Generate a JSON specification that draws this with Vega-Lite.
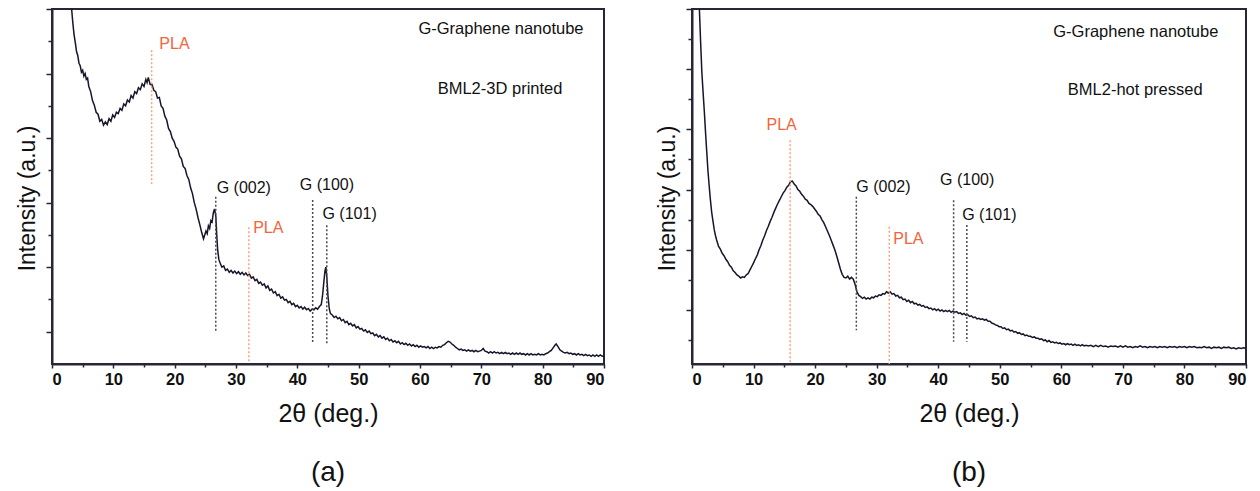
{
  "$schema": "https://vega.github.io/schema/vega-lite/v6.json",
  "padding": {"left": 15, "top": 7, "right": 0, "bottom": 0},
  "spacing": 49,
  "config": {
    "view": {"stroke": "#262638", "strokeWidth": 2},
    "font": "Liberation Sans",
    "axis": {"domainColor": "#262638", "domainWidth": 2, "tickColor": "#262638", "tickWidth": 1.5, "grid": false, "labelColor": "#111111", "titleColor": "#111111", "labelFont": "Liberation Sans", "titleFont": "Liberation Sans"}
  },
  "datasets": {
    "a_curve": [
      {"x":3.2,"y":5.5},{"x":3.4,"y":5.28},{"x":3.6,"y":5.1},{"x":3.8,"y":4.98},{"x":4.0,"y":4.84},{"x":4.2,"y":4.78},{"x":4.4,"y":4.66},{"x":4.6,"y":4.62},{"x":4.8,"y":4.52},{"x":5.0,"y":4.55},{"x":5.2,"y":4.46},{"x":5.4,"y":4.5},{"x":5.6,"y":4.41},{"x":5.8,"y":4.43},{"x":6.0,"y":4.3},{"x":6.3,"y":4.22},{"x":6.6,"y":4.08},{"x":6.9,"y":4.01},{"x":7.2,"y":3.9},{"x":7.5,"y":3.87},{"x":7.8,"y":3.76},{"x":8.1,"y":3.79},{"x":8.4,"y":3.7},{"x":8.7,"y":3.75},{"x":9.0,"y":3.71},{"x":9.3,"y":3.8},{"x":9.6,"y":3.76},{"x":9.9,"y":3.86},{"x":10.2,"y":3.82},{"x":10.5,"y":3.9},{"x":10.8,"y":3.88},{"x":11.1,"y":3.96},{"x":11.4,"y":3.93},{"x":11.7,"y":4.03},{"x":12.0,"y":4.0},{"x":12.3,"y":4.09},{"x":12.6,"y":4.06},{"x":12.9,"y":4.16},{"x":13.2,"y":4.12},{"x":13.5,"y":4.22},{"x":13.8,"y":4.19},{"x":14.1,"y":4.28},{"x":14.4,"y":4.25},{"x":14.7,"y":4.34},{"x":15.0,"y":4.3},{"x":15.3,"y":4.41},{"x":15.5,"y":4.36},{"x":15.7,"y":4.44},{"x":16.0,"y":4.33},{"x":16.3,"y":4.33},{"x":16.6,"y":4.24},{"x":16.9,"y":4.22},{"x":17.2,"y":4.12},{"x":17.5,"y":4.13},{"x":17.8,"y":4.0},{"x":18.1,"y":3.96},{"x":18.4,"y":3.84},{"x":18.7,"y":3.78},{"x":19.0,"y":3.65},{"x":19.3,"y":3.6},{"x":19.6,"y":3.5},{"x":19.9,"y":3.45},{"x":20.2,"y":3.36},{"x":20.5,"y":3.33},{"x":20.8,"y":3.22},{"x":21.1,"y":3.18},{"x":21.4,"y":3.06},{"x":21.7,"y":3.03},{"x":22.0,"y":2.92},{"x":22.3,"y":2.86},{"x":22.6,"y":2.73},{"x":22.9,"y":2.64},{"x":23.2,"y":2.5},{"x":23.5,"y":2.4},{"x":23.8,"y":2.27},{"x":24.1,"y":2.16},{"x":24.4,"y":2.04},{"x":24.7,"y":1.94},{"x":24.9,"y":2.0},{"x":25.1,"y":2.06},{"x":25.3,"y":2.02},{"x":25.5,"y":2.14},{"x":25.7,"y":2.1},{"x":25.9,"y":2.22},{"x":26.1,"y":2.2},{"x":26.3,"y":2.34},{"x":26.5,"y":2.4},{"x":26.7,"y":2.3},{"x":26.85,"y":2.02},{"x":27.0,"y":1.78},{"x":27.2,"y":1.62},{"x":27.4,"y":1.57},{"x":27.7,"y":1.5},{"x":28.0,"y":1.52},{"x":28.3,"y":1.45},{"x":28.6,"y":1.47},{"x":28.9,"y":1.42},{"x":29.2,"y":1.45},{"x":29.5,"y":1.41},{"x":29.8,"y":1.44},{"x":30.1,"y":1.4},{"x":30.4,"y":1.43},{"x":30.7,"y":1.39},{"x":31.0,"y":1.42},{"x":31.3,"y":1.38},{"x":31.6,"y":1.41},{"x":31.9,"y":1.37},{"x":32.2,"y":1.39},{"x":32.5,"y":1.33},{"x":32.8,"y":1.35},{"x":33.1,"y":1.29},{"x":33.4,"y":1.31},{"x":33.7,"y":1.25},{"x":34.0,"y":1.27},{"x":34.3,"y":1.22},{"x":34.6,"y":1.24},{"x":34.9,"y":1.18},{"x":35.2,"y":1.21},{"x":35.5,"y":1.14},{"x":35.8,"y":1.16},{"x":36.1,"y":1.1},{"x":36.4,"y":1.12},{"x":36.7,"y":1.06},{"x":37.0,"y":1.08},{"x":37.3,"y":1.02},{"x":37.6,"y":1.04},{"x":37.9,"y":0.99},{"x":38.2,"y":1.0},{"x":38.5,"y":0.95},{"x":38.8,"y":0.97},{"x":39.1,"y":0.92},{"x":39.4,"y":0.94},{"x":39.7,"y":0.89},{"x":40.0,"y":0.91},{"x":40.3,"y":0.87},{"x":40.6,"y":0.89},{"x":40.9,"y":0.85},{"x":41.2,"y":0.88},{"x":41.5,"y":0.84},{"x":41.8,"y":0.86},{"x":42.1,"y":0.82},{"x":42.4,"y":0.85},{"x":42.7,"y":0.84},{"x":43.0,"y":0.87},{"x":43.3,"y":0.85},{"x":43.6,"y":0.89},{"x":43.9,"y":0.92},{"x":44.1,"y":1.05},{"x":44.3,"y":1.25},{"x":44.5,"y":1.44},{"x":44.65,"y":1.5},{"x":44.8,"y":1.36},{"x":45.0,"y":1.05},{"x":45.2,"y":0.86},{"x":45.4,"y":0.78},{"x":45.7,"y":0.76},{"x":46.0,"y":0.72},{"x":46.3,"y":0.74},{"x":46.6,"y":0.7},{"x":46.9,"y":0.72},{"x":47.2,"y":0.67},{"x":47.5,"y":0.69},{"x":47.8,"y":0.64},{"x":48.1,"y":0.66},{"x":48.4,"y":0.61},{"x":48.7,"y":0.63},{"x":49.0,"y":0.59},{"x":49.3,"y":0.61},{"x":49.6,"y":0.56},{"x":49.9,"y":0.58},{"x":50.2,"y":0.54},{"x":50.5,"y":0.55},{"x":50.8,"y":0.51},{"x":51.1,"y":0.53},{"x":51.4,"y":0.49},{"x":51.7,"y":0.51},{"x":52.0,"y":0.47},{"x":52.3,"y":0.48},{"x":52.6,"y":0.44},{"x":52.9,"y":0.46},{"x":53.2,"y":0.42},{"x":53.5,"y":0.44},{"x":53.8,"y":0.4},{"x":54.1,"y":0.42},{"x":54.4,"y":0.38},{"x":54.7,"y":0.4},{"x":55.0,"y":0.36},{"x":55.3,"y":0.38},{"x":55.6,"y":0.34},{"x":55.9,"y":0.36},{"x":56.2,"y":0.33},{"x":56.5,"y":0.35},{"x":56.8,"y":0.31},{"x":57.1,"y":0.33},{"x":57.4,"y":0.3},{"x":57.7,"y":0.32},{"x":58.0,"y":0.29},{"x":58.3,"y":0.31},{"x":58.6,"y":0.28},{"x":58.9,"y":0.3},{"x":59.2,"y":0.27},{"x":59.5,"y":0.29},{"x":59.8,"y":0.26},{"x":60.1,"y":0.28},{"x":60.4,"y":0.26},{"x":60.7,"y":0.27},{"x":61.0,"y":0.25},{"x":61.3,"y":0.27},{"x":61.6,"y":0.24},{"x":61.9,"y":0.26},{"x":62.2,"y":0.24},{"x":62.5,"y":0.26},{"x":62.8,"y":0.25},{"x":63.1,"y":0.27},{"x":63.4,"y":0.26},{"x":63.7,"y":0.29},{"x":64.0,"y":0.3},{"x":64.3,"y":0.33},{"x":64.6,"y":0.35},{"x":64.9,"y":0.34},{"x":65.2,"y":0.31},{"x":65.5,"y":0.29},{"x":65.8,"y":0.26},{"x":66.1,"y":0.24},{"x":66.4,"y":0.22},{"x":66.7,"y":0.23},{"x":67.0,"y":0.21},{"x":67.3,"y":0.22},{"x":67.6,"y":0.2},{"x":67.9,"y":0.22},{"x":68.2,"y":0.2},{"x":68.5,"y":0.21},{"x":68.8,"y":0.19},{"x":69.1,"y":0.21},{"x":69.4,"y":0.19},{"x":69.7,"y":0.2},{"x":70.0,"y":0.21},{"x":70.3,"y":0.24},{"x":70.6,"y":0.2},{"x":70.9,"y":0.19},{"x":71.2,"y":0.17},{"x":71.5,"y":0.19},{"x":71.8,"y":0.17},{"x":72.1,"y":0.19},{"x":72.4,"y":0.17},{"x":72.7,"y":0.18},{"x":73.0,"y":0.16},{"x":73.3,"y":0.18},{"x":73.6,"y":0.16},{"x":73.9,"y":0.18},{"x":74.2,"y":0.16},{"x":74.5,"y":0.17},{"x":74.8,"y":0.15},{"x":75.1,"y":0.17},{"x":75.4,"y":0.15},{"x":75.7,"y":0.17},{"x":76.0,"y":0.15},{"x":76.3,"y":0.17},{"x":76.6,"y":0.15},{"x":76.9,"y":0.16},{"x":77.2,"y":0.14},{"x":77.5,"y":0.16},{"x":77.8,"y":0.14},{"x":78.1,"y":0.16},{"x":78.4,"y":0.14},{"x":78.7,"y":0.15},{"x":79.0,"y":0.14},{"x":79.3,"y":0.16},{"x":79.6,"y":0.14},{"x":79.9,"y":0.15},{"x":80.2,"y":0.14},{"x":80.5,"y":0.16},{"x":80.8,"y":0.17},{"x":81.1,"y":0.19},{"x":81.4,"y":0.21},{"x":81.7,"y":0.25},{"x":82.0,"y":0.29},{"x":82.2,"y":0.31},{"x":82.5,"y":0.27},{"x":82.8,"y":0.22},{"x":83.1,"y":0.2},{"x":83.4,"y":0.18},{"x":83.7,"y":0.17},{"x":84.0,"y":0.18},{"x":84.3,"y":0.16},{"x":84.6,"y":0.17},{"x":84.9,"y":0.15},{"x":85.2,"y":0.16},{"x":85.5,"y":0.14},{"x":85.8,"y":0.16},{"x":86.1,"y":0.14},{"x":86.4,"y":0.15},{"x":86.7,"y":0.13},{"x":87.0,"y":0.15},{"x":87.3,"y":0.13},{"x":87.6,"y":0.14},{"x":87.9,"y":0.12},{"x":88.2,"y":0.14},{"x":88.5,"y":0.12},{"x":88.8,"y":0.14},{"x":89.1,"y":0.12},{"x":89.4,"y":0.14},{"x":89.7,"y":0.12},{"x":90.0,"y":0.13}
    ],
    "b_curve": [
      {"x":1.2,"y":5.9},{"x":1.4,"y":5.35},{"x":1.6,"y":4.85},{"x":1.8,"y":4.52},{"x":2.0,"y":4.2},{"x":2.2,"y":3.85},{"x":2.4,"y":3.52},{"x":2.6,"y":3.2},{"x":2.8,"y":2.95},{"x":3.0,"y":2.72},{"x":3.2,"y":2.52},{"x":3.4,"y":2.38},{"x":3.6,"y":2.24},{"x":3.8,"y":2.14},{"x":4.0,"y":2.06},{"x":4.3,"y":1.96},{"x":4.6,"y":1.91},{"x":4.9,"y":1.84},{"x":5.2,"y":1.8},{"x":5.5,"y":1.74},{"x":5.8,"y":1.7},{"x":6.1,"y":1.64},{"x":6.4,"y":1.61},{"x":6.7,"y":1.55},{"x":7.0,"y":1.52},{"x":7.3,"y":1.48},{"x":7.6,"y":1.46},{"x":7.9,"y":1.43},{"x":8.2,"y":1.45},{"x":8.5,"y":1.44},{"x":8.8,"y":1.48},{"x":9.1,"y":1.5},{"x":9.4,"y":1.56},{"x":9.7,"y":1.62},{"x":10.0,"y":1.68},{"x":10.3,"y":1.75},{"x":10.6,"y":1.81},{"x":10.9,"y":1.9},{"x":11.2,"y":1.97},{"x":11.5,"y":2.06},{"x":11.8,"y":2.13},{"x":12.1,"y":2.22},{"x":12.4,"y":2.29},{"x":12.7,"y":2.37},{"x":13.0,"y":2.44},{"x":13.3,"y":2.52},{"x":13.6,"y":2.59},{"x":13.9,"y":2.66},{"x":14.2,"y":2.72},{"x":14.5,"y":2.78},{"x":14.8,"y":2.84},{"x":15.1,"y":2.88},{"x":15.4,"y":2.94},{"x":15.7,"y":2.97},{"x":16.0,"y":3.03},{"x":16.3,"y":3.04},{"x":16.6,"y":2.99},{"x":16.9,"y":2.96},{"x":17.2,"y":2.9},{"x":17.5,"y":2.87},{"x":17.8,"y":2.82},{"x":18.1,"y":2.79},{"x":18.4,"y":2.74},{"x":18.7,"y":2.72},{"x":19.0,"y":2.67},{"x":19.3,"y":2.65},{"x":19.6,"y":2.62},{"x":19.9,"y":2.58},{"x":20.2,"y":2.54},{"x":20.5,"y":2.49},{"x":20.8,"y":2.46},{"x":21.1,"y":2.4},{"x":21.4,"y":2.35},{"x":21.7,"y":2.28},{"x":22.0,"y":2.21},{"x":22.3,"y":2.14},{"x":22.6,"y":2.06},{"x":22.9,"y":1.98},{"x":23.2,"y":1.9},{"x":23.5,"y":1.8},{"x":23.8,"y":1.69},{"x":24.1,"y":1.58},{"x":24.4,"y":1.49},{"x":24.7,"y":1.44},{"x":25.0,"y":1.43},{"x":25.3,"y":1.46},{"x":25.6,"y":1.41},{"x":25.9,"y":1.44},{"x":26.2,"y":1.41},{"x":26.5,"y":1.32},{"x":26.8,"y":1.2},{"x":27.1,"y":1.14},{"x":27.4,"y":1.12},{"x":27.7,"y":1.09},{"x":28.0,"y":1.11},{"x":28.3,"y":1.08},{"x":28.6,"y":1.1},{"x":28.9,"y":1.08},{"x":29.2,"y":1.11},{"x":29.5,"y":1.1},{"x":29.8,"y":1.13},{"x":30.1,"y":1.12},{"x":30.4,"y":1.15},{"x":30.7,"y":1.14},{"x":31.0,"y":1.17},{"x":31.3,"y":1.16},{"x":31.6,"y":1.2},{"x":31.9,"y":1.18},{"x":32.2,"y":1.2},{"x":32.5,"y":1.16},{"x":32.8,"y":1.17},{"x":33.1,"y":1.13},{"x":33.4,"y":1.14},{"x":33.7,"y":1.1},{"x":34.0,"y":1.11},{"x":34.3,"y":1.07},{"x":34.6,"y":1.08},{"x":34.9,"y":1.04},{"x":35.2,"y":1.06},{"x":35.5,"y":1.02},{"x":35.8,"y":1.04},{"x":36.1,"y":1.0},{"x":36.4,"y":1.01},{"x":36.7,"y":0.98},{"x":37.0,"y":0.99},{"x":37.3,"y":0.96},{"x":37.6,"y":0.97},{"x":37.9,"y":0.94},{"x":38.2,"y":0.95},{"x":38.5,"y":0.92},{"x":38.8,"y":0.93},{"x":39.1,"y":0.9},{"x":39.4,"y":0.92},{"x":39.7,"y":0.89},{"x":40.0,"y":0.91},{"x":40.3,"y":0.88},{"x":40.6,"y":0.9},{"x":40.9,"y":0.87},{"x":41.2,"y":0.89},{"x":41.5,"y":0.87},{"x":41.8,"y":0.89},{"x":42.1,"y":0.86},{"x":42.4,"y":0.88},{"x":42.7,"y":0.86},{"x":43.0,"y":0.87},{"x":43.3,"y":0.84},{"x":43.6,"y":0.85},{"x":43.9,"y":0.82},{"x":44.2,"y":0.84},{"x":44.5,"y":0.81},{"x":44.8,"y":0.82},{"x":45.1,"y":0.79},{"x":45.4,"y":0.8},{"x":45.7,"y":0.77},{"x":46.0,"y":0.78},{"x":46.3,"y":0.75},{"x":46.6,"y":0.76},{"x":46.9,"y":0.74},{"x":47.2,"y":0.75},{"x":47.5,"y":0.73},{"x":47.8,"y":0.74},{"x":48.1,"y":0.71},{"x":48.4,"y":0.71},{"x":48.7,"y":0.68},{"x":49.0,"y":0.67},{"x":49.3,"y":0.65},{"x":49.6,"y":0.64},{"x":49.9,"y":0.62},{"x":50.2,"y":0.62},{"x":50.5,"y":0.59},{"x":50.8,"y":0.6},{"x":51.1,"y":0.57},{"x":51.4,"y":0.58},{"x":51.7,"y":0.55},{"x":52.0,"y":0.56},{"x":52.3,"y":0.53},{"x":52.6,"y":0.54},{"x":52.9,"y":0.51},{"x":53.2,"y":0.52},{"x":53.5,"y":0.49},{"x":53.8,"y":0.5},{"x":54.1,"y":0.47},{"x":54.4,"y":0.48},{"x":54.7,"y":0.46},{"x":55.0,"y":0.46},{"x":55.3,"y":0.44},{"x":55.6,"y":0.45},{"x":55.9,"y":0.43},{"x":56.2,"y":0.43},{"x":56.5,"y":0.41},{"x":56.8,"y":0.42},{"x":57.1,"y":0.39},{"x":57.4,"y":0.4},{"x":57.7,"y":0.37},{"x":58.0,"y":0.39},{"x":58.3,"y":0.36},{"x":58.6,"y":0.37},{"x":58.9,"y":0.35},{"x":59.2,"y":0.36},{"x":59.5,"y":0.34},{"x":59.8,"y":0.35},{"x":60.1,"y":0.33},{"x":60.4,"y":0.34},{"x":60.7,"y":0.32},{"x":61.0,"y":0.34},{"x":61.3,"y":0.32},{"x":61.6,"y":0.33},{"x":61.9,"y":0.31},{"x":62.2,"y":0.33},{"x":62.5,"y":0.31},{"x":62.8,"y":0.32},{"x":63.1,"y":0.3},{"x":63.4,"y":0.32},{"x":63.7,"y":0.3},{"x":64.0,"y":0.31},{"x":64.4,"y":0.3},{"x":64.8,"y":0.31},{"x":65.2,"y":0.29},{"x":65.6,"y":0.31},{"x":66.0,"y":0.29},{"x":66.4,"y":0.31},{"x":66.8,"y":0.29},{"x":67.2,"y":0.3},{"x":67.6,"y":0.28},{"x":68.0,"y":0.3},{"x":68.4,"y":0.29},{"x":68.8,"y":0.3},{"x":69.2,"y":0.28},{"x":69.6,"y":0.3},{"x":70.0,"y":0.28},{"x":70.4,"y":0.3},{"x":70.8,"y":0.28},{"x":71.2,"y":0.29},{"x":71.6,"y":0.27},{"x":72.0,"y":0.29},{"x":72.4,"y":0.28},{"x":72.8,"y":0.3},{"x":73.2,"y":0.28},{"x":73.6,"y":0.29},{"x":74.0,"y":0.27},{"x":74.4,"y":0.29},{"x":74.8,"y":0.28},{"x":75.2,"y":0.29},{"x":75.6,"y":0.27},{"x":76.0,"y":0.29},{"x":76.4,"y":0.28},{"x":76.8,"y":0.29},{"x":77.2,"y":0.27},{"x":77.6,"y":0.29},{"x":78.0,"y":0.28},{"x":78.4,"y":0.29},{"x":78.8,"y":0.27},{"x":79.2,"y":0.29},{"x":79.6,"y":0.28},{"x":80.0,"y":0.29},{"x":80.4,"y":0.27},{"x":80.8,"y":0.29},{"x":81.2,"y":0.28},{"x":81.6,"y":0.29},{"x":82.0,"y":0.27},{"x":82.4,"y":0.28},{"x":82.8,"y":0.27},{"x":83.2,"y":0.29},{"x":83.6,"y":0.27},{"x":84.0,"y":0.28},{"x":84.4,"y":0.26},{"x":84.8,"y":0.28},{"x":85.2,"y":0.27},{"x":85.6,"y":0.28},{"x":86.0,"y":0.26},{"x":86.4,"y":0.28},{"x":86.8,"y":0.27},{"x":87.2,"y":0.28},{"x":87.6,"y":0.26},{"x":88.0,"y":0.27},{"x":88.4,"y":0.25},{"x":88.8,"y":0.27},{"x":89.2,"y":0.26},{"x":89.6,"y":0.27},{"x":90.0,"y":0.26}
    ],
    "a_rules": [
      {"x":16.25,"y1":4.86,"y2":2.79,"kind":"PLA"},
      {"x":26.7,"y1":2.59,"y2":0.5,"kind":"G"},
      {"x":32.1,"y1":2.12,"y2":0.03,"kind":"PLA"},
      {"x":42.5,"y1":2.54,"y2":0.31,"kind":"G"},
      {"x":44.8,"y1":2.15,"y2":0.31,"kind":"G"}
    ],
    "b_rules": [
      {"x":15.95,"y1":3.72,"y2":0.0,"kind":"PLA"},
      {"x":26.7,"y1":2.78,"y2":0.56,"kind":"G"},
      {"x":32.05,"y1":2.28,"y2":0.0,"kind":"PLA"},
      {"x":42.5,"y1":2.72,"y2":0.37,"kind":"G"},
      {"x":44.65,"y1":2.31,"y2":0.37,"kind":"G"}
    ],
    "a_labels": [
      {"x":17.5,"y":4.96,"label":"PLA","kind":"PLA"},
      {"x":26.85,"y":2.73,"label":"G (002)","kind":"G"},
      {"x":32.8,"y":2.11,"label":"PLA","kind":"PLA"},
      {"x":40.4,"y":2.77,"label":"G (100)","kind":"G"},
      {"x":44.1,"y":2.32,"label":"G (101)","kind":"G"}
    ],
    "b_labels": [
      {"x":12.1,"y":3.97,"label":"PLA","kind":"PLA"},
      {"x":26.7,"y":2.94,"label":"G (002)","kind":"G"},
      {"x":32.7,"y":2.08,"label":"PLA","kind":"PLA"},
      {"x":40.3,"y":3.06,"label":"G (100)","kind":"G"},
      {"x":43.9,"y":2.47,"label":"G (101)","kind":"G"}
    ],
    "a_notes": [
      {"x":73.2,"y":5.19,"label":"G-Graphene nanotube"},
      {"x":73.05,"y":4.26,"label":"BML2-3D printed"}
    ],
    "b_notes": [
      {"x":72.1,"y":5.51,"label":"G-Graphene nanotube"},
      {"x":72.0,"y":4.55,"label":"BML2-hot pressed"}
    ]
  },
  "hconcat": [
    {
      "width": 552,
      "height": 355,
      "title": {"text": "(a)", "orient": "bottom", "fontSize": 28, "fontWeight": "normal", "font": "Liberation Sans", "color": "#111111", "offset": 33, "anchor": "middle"},
      "resolve": {"axis": {"x": "independent", "y": "independent"}, "scale": {"color": "independent"}},
      "layer": [
        {
          "data": {"name": "a_curve"},
          "mark": {"type": "line", "color": "#16162a", "strokeWidth": 1.5, "clip": true},
          "encoding": {
            "x": {"field": "x", "type": "quantitative", "scale": {"domain": [0, 90], "nice": false, "zero": false},
              "axis": {"orient": "bottom", "values": [0,10,20,30,40,50,60,70,80,90], "tickSize": 4, "labelFontSize": 16.5, "labelFontWeight": "bold", "labelPadding": 3, "title": "2θ (deg.)", "titleFontSize": 25, "titleFontWeight": "normal", "titleY": 49, "titleBaseline": "middle"}},
            "y": {"field": "y", "type": "quantitative", "scale": {"domain": [0, 5.5], "nice": false, "zero": false},
              "axis": {"orient": "left", "values": [0.5,1.5,2.5,3.5,4.5,5.5], "tickSize": 6, "labels": false, "title": "Intensity (a.u.)", "titleFontSize": 23, "titleFontWeight": "normal", "titleX": -25, "titleY": 189, "titleBaseline": "middle", "titleAlign": "center"}}
          }
        },
        {
          "data": {"name": "a_rules"},
          "mark": {"type": "rule", "strokeDash": [2, 2], "strokeWidth": 1.5},
          "encoding": {
            "x": {"field": "x", "type": "quantitative", "scale": {"domain": [0, 90], "nice": false, "zero": false},
              "axis": {"orient": "bottom", "values": [5,15,25,35,45,55,65,75,85], "tickSize": 3, "labels": false, "domain": false, "title": null}},
            "y": {"field": "y1", "type": "quantitative", "scale": {"domain": [0, 5.5], "nice": false, "zero": false},
              "axis": {"orient": "left", "values": [1,2,3,4,5], "tickSize": 4, "labels": false, "domain": false, "title": null}},
            "y2": {"field": "y2"},
            "color": {"field": "kind", "type": "nominal", "scale": {"domain": ["PLA", "G"], "range": ["#f7a27c", "#4a4a55"]}, "legend": null}
          }
        },
        {
          "data": {"name": "a_labels"},
          "mark": {"type": "text", "align": "left", "baseline": "middle", "fontSize": 16, "font": "Liberation Sans"},
          "encoding": {
            "x": {"field": "x", "type": "quantitative", "axis": null},
            "y": {"field": "y", "type": "quantitative", "axis": null},
            "text": {"field": "label"},
            "color": {"field": "kind", "type": "nominal", "scale": {"domain": ["PLA", "G"], "range": ["#f1653a", "#111111"]}, "legend": null}
          }
        },
        {
          "data": {"name": "a_notes"},
          "mark": {"type": "text", "align": "center", "baseline": "middle", "fontSize": 16.5, "font": "Liberation Sans", "color": "#111111"},
          "encoding": {
            "x": {"field": "x", "type": "quantitative", "axis": null},
            "y": {"field": "y", "type": "quantitative", "axis": null},
            "text": {"field": "label"}
          }
        }
      ]
    },
    {
      "width": 554,
      "height": 355,
      "title": {"text": "(b)", "orient": "bottom", "fontSize": 28, "fontWeight": "normal", "font": "Liberation Sans", "color": "#111111", "offset": 33, "anchor": "middle"},
      "resolve": {"axis": {"x": "independent", "y": "independent"}, "scale": {"color": "independent"}},
      "layer": [
        {
          "data": {"name": "b_curve"},
          "mark": {"type": "line", "color": "#16162a", "strokeWidth": 1.5, "clip": true},
          "encoding": {
            "x": {"field": "x", "type": "quantitative", "scale": {"domain": [0, 90], "nice": false, "zero": false},
              "axis": {"orient": "bottom", "values": [0,10,20,30,40,50,60,70,80,90], "tickSize": 4, "labelFontSize": 16.5, "labelFontWeight": "bold", "labelPadding": 3, "title": "2θ (deg.)", "titleFontSize": 25, "titleFontWeight": "normal", "titleY": 49, "titleBaseline": "middle"}},
            "y": {"field": "y", "type": "quantitative", "scale": {"domain": [0, 5.9], "nice": false, "zero": false},
              "axis": {"orient": "left", "values": [0.9,1.9,2.9,3.9,4.9,5.9], "tickSize": 6, "labels": false, "title": "Intensity (a.u.)", "titleFontSize": 23, "titleFontWeight": "normal", "titleX": -25, "titleY": 189, "titleBaseline": "middle", "titleAlign": "center"}}
          }
        },
        {
          "data": {"name": "b_rules"},
          "mark": {"type": "rule", "strokeDash": [2, 2], "strokeWidth": 1.5},
          "encoding": {
            "x": {"field": "x", "type": "quantitative", "scale": {"domain": [0, 90], "nice": false, "zero": false},
              "axis": {"orient": "bottom", "values": [5,15,25,35,45,55,65,75,85], "tickSize": 3, "labels": false, "domain": false, "title": null}},
            "y": {"field": "y1", "type": "quantitative", "scale": {"domain": [0, 5.9], "nice": false, "zero": false},
              "axis": {"orient": "left", "values": [0.4,1.4,2.4,3.4,4.4,5.4], "tickSize": 4, "labels": false, "domain": false, "title": null}},
            "y2": {"field": "y2"},
            "color": {"field": "kind", "type": "nominal", "scale": {"domain": ["PLA", "G"], "range": ["#f7a27c", "#4a4a55"]}, "legend": null}
          }
        },
        {
          "data": {"name": "b_labels"},
          "mark": {"type": "text", "align": "left", "baseline": "middle", "fontSize": 16, "font": "Liberation Sans"},
          "encoding": {
            "x": {"field": "x", "type": "quantitative", "axis": null},
            "y": {"field": "y", "type": "quantitative", "axis": null},
            "text": {"field": "label"},
            "color": {"field": "kind", "type": "nominal", "scale": {"domain": ["PLA", "G"], "range": ["#f1653a", "#111111"]}, "legend": null}
          }
        },
        {
          "data": {"name": "b_notes"},
          "mark": {"type": "text", "align": "center", "baseline": "middle", "fontSize": 16.5, "font": "Liberation Sans", "color": "#111111"},
          "encoding": {
            "x": {"field": "x", "type": "quantitative", "axis": null},
            "y": {"field": "y", "type": "quantitative", "axis": null},
            "text": {"field": "label"}
          }
        }
      ]
    }
  ]
}
